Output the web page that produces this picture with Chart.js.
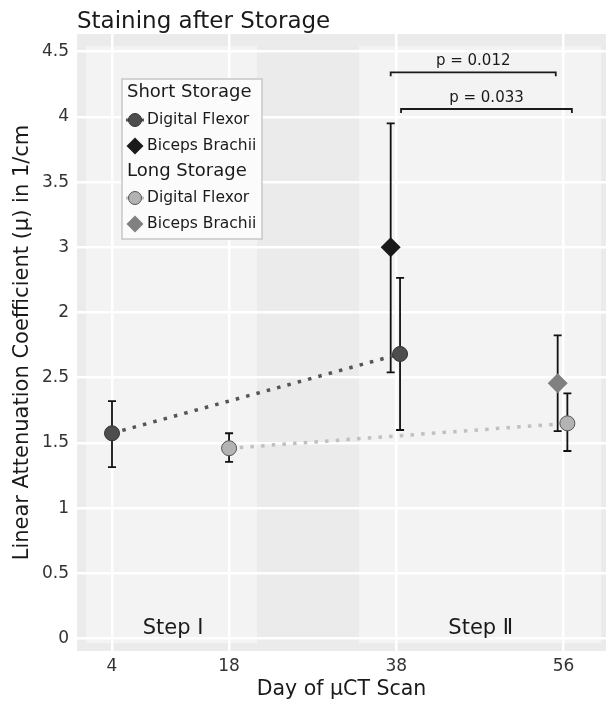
<!DOCTYPE html>
<html><head><meta charset="utf-8">
<script src="https://cdn.jsdelivr.net/npm/chart.js@4/dist/chart.umd.min.js"></script>
<style>html,body{margin:0;padding:0;background:#fff}canvas{display:block}</style>
</head><body>
<canvas id="c" width="606" height="704"></canvas>
<script>
// ---- data ----
const xTickPos = [4, 18, 38, 58];
const xTickLabels = ['4', '18', '38', '56'];
const yTickPos = [0, 0.5, 1, 1.5, 2, 2.5, 3, 3.5, 4, 4.5];
const yTickLabels = ['0', '0.5', '1', '1.5', '2.5', '2', '3', '3.5', '4', '4.5'];

const shortDFx = [4, 38.45];
const shortDFy = [1.574, 2.182];
const shortDFlo = [1.315, 1.599];
const shortDFhi = [1.821, 2.765];

const longDFx = [18, 58.46];
const longDFy = [1.459, 1.650];
const longDFlo = [1.354, 1.438];
const longDFhi = [1.574, 1.880];

const shortBBx = [37.33];
const shortBBy = [3.0];
const shortBBlo = [2.041];
const shortBBhi = [3.951];

const longBBx = [57.3];
const longBBy = [1.957];
const longBBlo = [1.591];
const longBBhi = [2.325];

const stepNames = ['Step \u2160', 'Step \u2161'];
const stepStart = [0.89, 33.54];
const stepEnd = [21.34, 62.49];
const stepTop = 4.544, stepBottom = -0.035;
const stepLabelX = [11.3, 48.1];
const stepLabelY = 0.08;

const pLabels = ['p = 0.012', 'p = 0.033'];
const pFrom = [37.33, 38.57];
const pTo = [57.07, 59.0];
const pLevel = [4.342, 4.061];

// ---- styles ----
const FONT = "'DejaVu Sans', 'Liberation Sans', sans-serif";
const C_SHORT_DF = '#4d4d4d', C_SHORT_BB = '#1a1a1a', C_LONG_DF = '#b3b3b3', C_LONG_BB = '#808080';
const C_SHORT_LINE = '#555555', C_LONG_LINE = '#c0c0c0';

const pts = (xs, ys) => xs.map((x, i) => ({x, y: ys[i]}));

const errorSets = [
  {xs: shortBBx, lo: shortBBlo, hi: shortBBhi},
  {xs: shortDFx, lo: shortDFlo, hi: shortDFhi},
  {xs: longBBx, lo: longBBlo, hi: longBBhi},
  {xs: longDFx, lo: longDFlo, hi: longDFhi}
];

const bgPlugin = {
  id: 'bg',
  beforeDraw(chart) {
    const {ctx, chartArea: a, scales: {x, y}} = chart;
    ctx.save();
    ctx.fillStyle = '#ebebeb';
    ctx.fillRect(a.left, a.top, a.right - a.left, a.bottom - a.top);
    ctx.fillStyle = '#f3f3f3';
    for (let i = 0; i < stepStart.length; i++) {
      const x1 = x.getPixelForValue(stepStart[i]), x2 = x.getPixelForValue(stepEnd[i]);
      const y1 = y.getPixelForValue(stepTop), y2 = y.getPixelForValue(stepBottom);
      ctx.fillRect(x1, y1, x2 - x1, y2 - y1);
    }
    // title
    ctx.fillStyle = '#1a1a1a';
    ctx.font = '23px ' + FONT;
    ctx.textAlign = 'left';
    ctx.textBaseline = 'alphabetic';
    ctx.fillText('Staining after Storage', a.left, 28);
    ctx.restore();
  }
};

const errPlugin = {
  id: 'err',
  beforeDatasetsDraw(chart) {
    const {ctx, scales: {x, y}} = chart;
    ctx.save();
    ctx.strokeStyle = '#111';
    ctx.lineWidth = 1.8;
    const cap = 4;
    errorSets.forEach(s => {
      s.xs.forEach((xv, i) => {
        const px = x.getPixelForValue(xv);
        const yl = y.getPixelForValue(s.lo[i]), yh = y.getPixelForValue(s.hi[i]);
        ctx.beginPath();
        ctx.moveTo(px, yl); ctx.lineTo(px, yh);
        ctx.moveTo(px - cap, yl); ctx.lineTo(px + cap, yl);
        ctx.moveTo(px - cap, yh); ctx.lineTo(px + cap, yh);
        ctx.stroke();
      });
    });
    // step labels
    ctx.fillStyle = '#1a1a1a';
    ctx.font = '21px ' + FONT;
    ctx.textAlign = 'center';
    ctx.textBaseline = 'middle';
    stepNames.forEach((t, i) => ctx.fillText(t, x.getPixelForValue(stepLabelX[i]), y.getPixelForValue(stepLabelY)));
    // significance brackets
    ctx.strokeStyle = '#1a1a1a';
    ctx.lineWidth = 1.8;
    ctx.font = '15px ' + FONT;
    ctx.textBaseline = 'middle';
    pLabels.forEach((t, i) => {
      const x1 = x.getPixelForValue(pFrom[i]), x2 = x.getPixelForValue(pTo[i]);
      const py = y.getPixelForValue(pLevel[i]);
      ctx.beginPath();
      ctx.moveTo(x1, py + 4); ctx.lineTo(x1, py); ctx.lineTo(x2, py); ctx.lineTo(x2, py + 4);
      ctx.stroke();
      ctx.fillText(t, (x1 + x2) / 2, py - 11);
    });
    ctx.restore();
  }
};

function diamond(ctx, cx, cy, r, fill) {
  ctx.beginPath();
  ctx.moveTo(cx, cy - r); ctx.lineTo(cx + r, cy); ctx.lineTo(cx, cy + r); ctx.lineTo(cx - r, cy);
  ctx.closePath();
  ctx.fillStyle = fill; ctx.fill();
}
function circle(ctx, cx, cy, r, fill, stroke) {
  ctx.beginPath();
  ctx.arc(cx, cy, r, 0, Math.PI * 2);
  ctx.fillStyle = fill; ctx.fill();
  ctx.strokeStyle = stroke; ctx.lineWidth = 1; ctx.stroke();
}

const legendPlugin = {
  id: 'customLegend',
  afterDraw(chart) {
    const ctx = chart.ctx;
    ctx.save();
    const L = 122, T = 79, W = 140, H = 160;
    ctx.fillStyle = '#fbfbfb';
    ctx.fillRect(L, T, W, H);
    ctx.strokeStyle = '#c8c8c8';
    ctx.lineWidth = 1.5;
    ctx.strokeRect(L, T, W, H);
    ctx.fillStyle = '#1a1a1a';
    ctx.textAlign = 'left';
    ctx.textBaseline = 'middle';
    ctx.font = '18px ' + FONT;
    ctx.fillText('Short Storage', 127, 92);
    ctx.fillText('Long Storage', 127, 171);
    ctx.font = '15.5px ' + FONT;
    const mx = 135, tx = 147;
    // short DF
    ctx.strokeStyle = C_SHORT_LINE; ctx.lineWidth = 3;
    ctx.beginPath(); ctx.moveTo(mx - 9, 120); ctx.lineTo(mx + 9, 120); ctx.stroke();
    circle(ctx, mx, 120, 6.5, C_SHORT_DF, '#333');
    ctx.fillStyle = '#1a1a1a'; ctx.fillText('Digital Flexor', tx, 120);
    diamond(ctx, mx, 146, 8.5, C_SHORT_BB);
    ctx.fillStyle = '#1a1a1a'; ctx.fillText('Biceps Brachii', tx, 146);
    // long DF
    ctx.strokeStyle = C_LONG_LINE; ctx.lineWidth = 3;
    ctx.beginPath(); ctx.moveTo(mx - 9, 198); ctx.lineTo(mx + 9, 198); ctx.stroke();
    circle(ctx, mx, 198, 6.5, C_LONG_DF, '#555');
    ctx.fillStyle = '#1a1a1a'; ctx.fillText('Digital Flexor', tx, 198);
    diamond(ctx, mx, 224, 8.5, C_LONG_BB);
    ctx.fillStyle = '#1a1a1a'; ctx.fillText('Biceps Brachii', tx, 224);
    ctx.restore();
  }
};

Chart.defaults.font.family = FONT;

new Chart(document.getElementById('c'), {
  type: 'scatter',
  data: {
    datasets: [
      {
        label: 'Short Storage Digital Flexor',
        data: pts(shortDFx, shortDFy),
        showLine: true,
        borderColor: C_SHORT_LINE,
        borderWidth: 3.5,
        borderDash: [3.5, 7.2],
        borderCapStyle: 'butt',
        pointStyle: 'circle',
        pointRadius: 7.5,
        pointBackgroundColor: C_SHORT_DF,
        pointBorderColor: '#333',
        pointBorderWidth: 1,
        order: 2
      },
      {
        label: 'Long Storage Digital Flexor',
        data: pts(longDFx, longDFy),
        showLine: true,
        borderColor: C_LONG_LINE,
        borderWidth: 3.5,
        borderDash: [3.5, 7.2],
        borderCapStyle: 'butt',
        pointStyle: 'circle',
        pointRadius: 7.5,
        pointBackgroundColor: C_LONG_DF,
        pointBorderColor: '#555',
        pointBorderWidth: 1,
        order: 2
      },
      {
        label: 'Short Storage Biceps Brachii',
        data: pts(shortBBx, shortBBy),
        pointStyle: 'rectRot',
        pointRadius: 10,
        pointBackgroundColor: C_SHORT_BB,
        pointBorderColor: C_SHORT_BB,
        pointBorderWidth: 0,
        order: 1
      },
      {
        label: 'Long Storage Biceps Brachii',
        data: pts(longBBx, longBBy),
        pointStyle: 'rectRot',
        pointRadius: 10,
        pointBackgroundColor: C_LONG_BB,
        pointBorderColor: C_LONG_BB,
        pointBorderWidth: 0,
        order: 1
      }
    ]
  },
  options: {
    responsive: false,
    animation: false,
    devicePixelRatio: 1,
    layout: {autoPadding: false, padding: {top: 34, right: 0, bottom: 0, left: 0}},
    plugins: {legend: {display: false}, tooltip: {enabled: false}, title: {display: false}},
    scales: {
      x: {
        type: 'linear',
        min: -0.186,
        max: 63.08,
        afterFit: s => { s.height = 53; s.paddingLeft = 0; s.paddingRight = 0; },
        afterBuildTicks: s => { s.ticks = xTickPos.map(v => ({value: v})); },
        ticks: {
          autoSkip: false,
          maxRotation: 0,
          padding: 5,
          color: '#333',
          font: {size: 17},
          callback: v => xTickLabels[xTickPos.indexOf(v)]
        },
        grid: {color: '#ffffff', lineWidth: 2.5, drawTicks: false},
        border: {display: false},
        title: {display: true, text: 'Day of \u00b5CT Scan', color: '#1a1a1a', font: {size: 20.5}, padding: {top: 0, bottom: 2}}
      },
      y: {
        type: 'linear',
        min: -0.0959,
        max: 4.636,
        afterFit: s => { s.width = 77; s.paddingTop = 0; s.paddingBottom = 0; },
        afterBuildTicks: s => { s.ticks = yTickPos.map(v => ({value: v})); },
        ticks: {
          autoSkip: false,
          padding: 8,
          color: '#333',
          font: {size: 17},
          callback: v => yTickLabels[yTickPos.indexOf(v)]
        },
        grid: {color: '#ffffff', lineWidth: 2.5, drawTicks: false},
        border: {display: false},
        title: {display: true, text: 'Linear Attenuation Coefficient (\u00b5) in 1/cm', color: '#1a1a1a', font: {size: 21}, padding: {top: 10, bottom: 0}}
      }
    }
  },
  plugins: [bgPlugin, errPlugin, legendPlugin]
});
</script>
</body></html>
